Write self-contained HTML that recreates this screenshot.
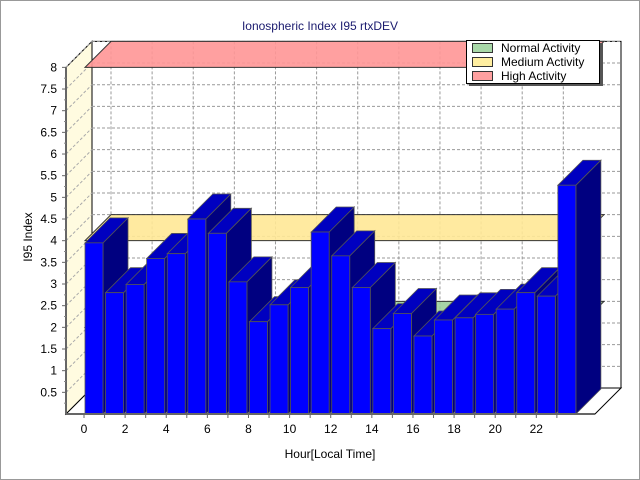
<!DOCTYPE html>
<html><head><meta charset="utf-8"><style>
body{margin:0;background:#fff}
svg{display:block;font-family:"Liberation Sans","DejaVu Sans",sans-serif}
</style></head><body>
<svg id="c" width="640" height="480" viewBox="0 0 640 480">
<rect x="0.5" y="0.5" width="639" height="479" fill="#fff" stroke="#999"/>
<text x="320" y="30" text-anchor="middle" font-size="12" fill="#1a1a6e">Ionospheric Index I95 rtxDEV</text>
<g id="walls"></g>
<g id="grid"></g>
<g id="bands"></g>
<g id="bars"></g>
<g id="axes"></g>
<text x="32" y="237" text-anchor="middle" font-size="12" fill="#000" transform="rotate(-90 32 237)">I95 Index</text>
<text x="330" y="458" text-anchor="middle" font-size="12" fill="#000">Hour[Local Time]</text>
<g>
<rect x="469" y="43" width="134" height="43" fill="#555"/>
<rect x="466.5" y="40.5" width="133" height="43" fill="#fff" stroke="#000"/>
<g><rect x="472.5" y="43.5" width="20" height="9" fill="#a8d8a8" stroke="#333"/><text x="501" y="52" font-size="12" fill="#000">Normal Activity</text></g>
<g><rect x="472.5" y="57.5" width="20" height="9" fill="#ffeea0" stroke="#333"/><text x="501" y="66" font-size="12" fill="#000">Medium Activity</text></g>
<g><rect x="472.5" y="71.5" width="20" height="9" fill="#ffa0a0" stroke="#333"/><text x="501" y="80" font-size="12" fill="#000">High Activity</text></g>
</g>
</svg>
<script>
const hours = [0,1,2,3,4,5,6,7,8,9,10,11,12,13,14,15,16,17,18,19,20,21,22,23];
const values = [3.95,2.8,2.99,3.59,3.7,4.5,4.17,3.05,2.13,2.52,2.92,4.2,3.65,2.92,1.97,2.32,1.8,2.17,2.22,2.3,2.42,2.8,2.72,5.28];
const yTicks = [0.5,1,1.5,2,2.5,3,3.5,4,4.5,5,5.5,6,6.5,7,7.5,8];
const xTicks = [0,2,4,6,8,10,12,14,16,18,20,22];
const bandLevels = [2,4,8];
const bandNames = ['normal-band','medium-band','high-band'];
const bandColors = ['rgba(150,205,150,0.85)','rgba(255,232,150,0.9)','rgba(255,150,150,0.9)'];

const NS='http://www.w3.org/2000/svg';
const X0=66,X1=595,Y0=414,D=26,yMax=8,yPix=43.33;
const barStart=85,pitch=20.56,barW=18,bDepth=25;
function yS(v){return Y0-v*yPix;}
function xS(h){return barStart+h*pitch;}
function mk(parent,tag,attrs){const e=document.createElementNS(NS,tag);for(const k in attrs)e.setAttribute(k,attrs[k]);parent.appendChild(e);return e;}
function pts(a){return a.map(p=>p.join(',')).join(' ');}

const walls=document.getElementById('walls');
let w=mk(walls,'polygon',{points:pts([[X0+D,Y0-D],[X1+D,Y0-D],[X1+D,yS(yMax)-D],[X0+D,yS(yMax)-D]]),fill:'#fff',stroke:'#000','stroke-width':1});


w=mk(walls,'polygon',{points:pts([[X0,Y0],[X0+D,Y0-D],[X0+D,yS(yMax)-D],[X0,yS(yMax)]]),fill:'#fffbe0',stroke:'#000','stroke-width':1});


w=mk(walls,'polygon',{points:pts([[X0,Y0],[X1,Y0],[X1+D,Y0-D],[X0+D,Y0-D]]),fill:'#fff',stroke:'#000','stroke-width':1});



const grid=document.getElementById('grid');
yTicks.forEach(v=>{
  const y=yS(v);
  let l=mk(grid,'line',{x1:X0+D,y1:y-D,x2:X1+D,y2:y-D,stroke:'#999','stroke-dasharray':'3,2'});
  
  
  l=mk(grid,'line',{x1:X0,y1:y,x2:X0+D,y2:y-D,stroke:'#aaa','stroke-dasharray':'3,2'});
  
  
});
xTicks.forEach(h=>{
  const x=xS(h);
  let l=mk(grid,'line',{x1:x+D,y1:yS(yMax)-D,x2:x+D,y2:Y0-D,stroke:'#999','stroke-dasharray':'3,2'});
  
  
});

const bands=document.getElementById('bands');
bandLevels.forEach((v,i)=>{
  const y=yS(v);
  const p=mk(bands,'polygon',{points:pts([[barStart,y],[X1-17,y],[X1-17+D,y-D],[barStart+D,y-D]]),fill:bandColors[i],stroke:'#333','stroke-width':1});
  
  
});

const bars=document.getElementById('bars');
hours.forEach((h,i)=>{
  const v=values[i],x=xS(h),yt=yS(v),g=mk(bars,'g',{});
  
  
  mk(g,'polygon',{points:pts([[x+barW,yt],[x+barW+bDepth,yt-bDepth],[x+barW+bDepth,Y0-bDepth],[x+barW,Y0]]),fill:'#000080',stroke:'#555','stroke-width':0.8});
  mk(g,'polygon',{points:pts([[x,yt],[x+bDepth,yt-bDepth],[x+barW+bDepth,yt-bDepth],[x+barW,yt]]),fill:'#0000c0',stroke:'#555','stroke-width':0.8});
  mk(g,'rect',{x:x,y:yt,width:barW,height:Y0-yt,fill:'#0000ff',stroke:'#555','stroke-width':0.8});
});

const axes=document.getElementById('axes');
mk(axes,'line',{x1:X0,y1:yS(yMax),x2:X0,y2:Y0,stroke:'#666','stroke-width':2});
mk(axes,'line',{x1:X0,y1:Y0,x2:X1,y2:Y0,stroke:'#666','stroke-width':2});
yTicks.forEach(v=>{
  const y=yS(v);
  const t=mk(axes,'text',{x:57,y:y+4,'text-anchor':'end','font-size':12,fill:'#000'});
  t.textContent=v;
  
  
  mk(axes,'line',{x1:X0-4,y1:y,x2:X0,y2:y,stroke:'#666'});
  mk(axes,'line',{x1:X0-2,y1:y+yPix/4,x2:X0,y2:y+yPix/4,stroke:'#888'});
});
hours.forEach(h=>{mk(axes,'line',{x1:xS(h)-1,y1:Y0,x2:xS(h)-1,y2:Y0+4,stroke:'#666'});});
xTicks.forEach(h=>{
  const t=mk(axes,'text',{x:xS(h)-1,y:Y0+19,'text-anchor':'middle','font-size':12,fill:'#000'});
  t.textContent=h;
  
  
});
</script>
</body></html>
